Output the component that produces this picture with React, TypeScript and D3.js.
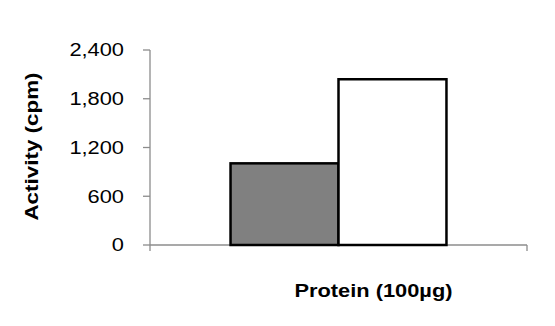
import React from "react";
import * as d3 from "d3";

const categories = ["Protein (100µg)"];
const seriesNames = ["A", "B"];
const seriesValues = [1005, 2040];
const seriesColors = ["#808080", "#ffffff"];
const yTicks = [0, 600, 1200, 1800, 2400];

export default function App() {
  const width = 555;
  const height = 326;
  const left = 150;
  const right = 527;
  const top = 50;
  const bottom = 245;
  const sx = 1.18;

  const x = d3.scaleBand().domain(categories).range([left, right]).paddingInner(0).paddingOuter(0.373);
  const xs = d3.scaleBand().domain(seriesNames).range([0, x.bandwidth()]).padding(0);
  const y = d3.scaleLinear().domain([0, 2400]).range([bottom, top]);
  const fmt = d3.format(",");
  const font = "'Liberation Sans', Arial, Helvetica, sans-serif";

  return (
    <svg width={width} height={height} style={{ position: "absolute", left: 0, top: 0 }}>
      <rect width={width} height={height} fill="#fff" />
      {/* y axis */}
      <line x1={left} x2={left} y1={top} y2={bottom + 6} stroke="#8c8c8c" strokeWidth={1.3} />
      {yTicks.map((t) => (
        <g key={t}>
          <line x1={left - 7} x2={left} y1={y(t)} y2={y(t)} stroke="#8c8c8c" strokeWidth={1.3} />
          <text
            transform={`translate(124, ${y(t)}) scale(${sx}, 1)`}
            dy="0.35em"
            textAnchor="end"
            fontFamily={font}
            fontSize={18.5}
            fill="#000"
          >
            {fmt(t)}
          </text>
        </g>
      ))}
      {/* x axis */}
      <line x1={left} x2={right} y1={bottom} y2={bottom} stroke="#8c8c8c" strokeWidth={1.3} />
      <line x1={right} x2={right} y1={bottom} y2={bottom + 6} stroke="#8c8c8c" strokeWidth={1.3} />
      {/* bars */}
      {categories.map((c) => (
        <g key={c}>
          {seriesNames.map((s, i) => (
            <rect
              key={s}
              x={(x(c) as number) + (xs(s) as number)}
              y={y(seriesValues[i])}
              width={xs.bandwidth()}
              height={bottom - y(seriesValues[i])}
              fill={seriesColors[i]}
              stroke="#000"
              strokeWidth={2.5}
            />
          ))}
          <text
            transform={`translate(${(x(c) as number) + x.bandwidth() / 2 + 35}, 297) scale(${sx}, 1)`}
            textAnchor="middle"
            fontFamily={font}
            fontWeight="bold"
            fontSize={18.5}
            fill="#000"
          >
            {c}
          </text>
        </g>
      ))}
      <text
        transform={`translate(38, ${(top + bottom) / 2 - 1}) rotate(-90) scale(${sx}, 1)`}
        textAnchor="middle"
        fontFamily={font}
        fontWeight="bold"
        fontSize={19}
        fill="#000"
      >
        Activity (cpm)
      </text>
    </svg>
  );
}
